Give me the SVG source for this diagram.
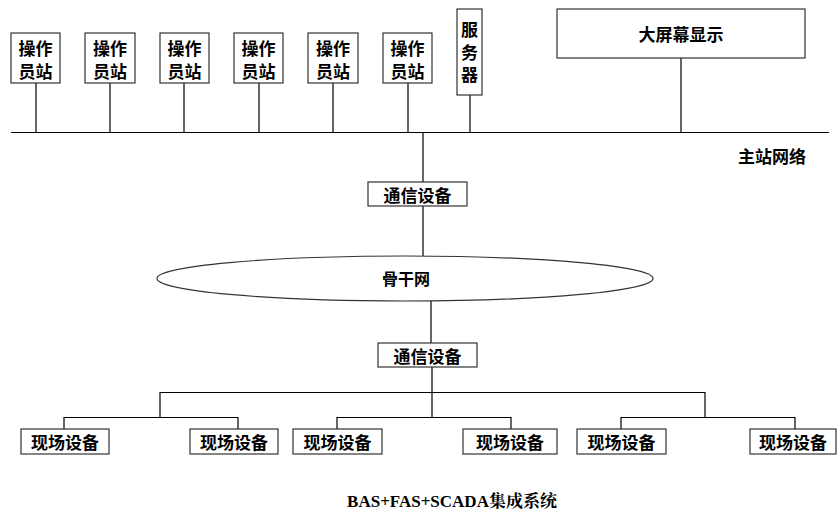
<svg xmlns="http://www.w3.org/2000/svg" width="837" height="513" viewBox="0 0 837 513">
<style>
.b{fill:#fff;stroke:#333;stroke-width:1.2}
.t{font-family:"Noto Sans CJK SC","Noto Sans CJK JP",sans-serif;font-size:17px;font-weight:bold;fill:#000;text-anchor:middle;dominant-baseline:central}
.c{stroke:#000;stroke-width:1.2;fill:none}
</style>
<rect width="837" height="513" fill="#fff"/>
<g id="connectors">
<path class="c" d="M11 132.5H829"/>
<path class="c" d="M36 83V132M110 83V132M184 83V132M259 83V132M333 83V132M408 83V132M470 95V132M681 58V132"/>
<path class="c" d="M423 132V182M423 206V256M431 301V343M432 367V417"/>
<path class="c" d="M160 417V392.5H705V417"/>
<path class="c" d="M64 429V417.5H238V429M337 429V417.5H511V429M621 429V417.5H795V429"/>
</g>
<g id="op1"><rect class="b" x="11" y="33" width="49" height="50"/><text class="t" x="35.5" y="47">操作</text><text class="t" x="35.5" y="70">员站</text></g>
<g id="op2"><rect class="b" x="85" y="33" width="50" height="50"/><text class="t" x="110" y="47">操作</text><text class="t" x="110" y="70">员站</text></g>
<g id="op3"><rect class="b" x="160" y="33" width="49" height="50"/><text class="t" x="184.5" y="47">操作</text><text class="t" x="184.5" y="70">员站</text></g>
<g id="op4"><rect class="b" x="234" y="33" width="49" height="50"/><text class="t" x="258.5" y="47">操作</text><text class="t" x="258.5" y="70">员站</text></g>
<g id="op5"><rect class="b" x="308" y="33" width="50" height="50"/><text class="t" x="333" y="47">操作</text><text class="t" x="333" y="70">员站</text></g>
<g id="op6"><rect class="b" x="383" y="33" width="49" height="50"/><text class="t" x="407.5" y="47">操作</text><text class="t" x="407.5" y="70">员站</text></g>
<g id="server"><rect class="b" x="457" y="9" width="25" height="86"/><text class="t" x="469.5" y="55" style="writing-mode:vertical-rl;letter-spacing:5.5px;dominant-baseline:auto">服务器</text></g>
<g id="screen"><rect class="b" x="557" y="9" width="248" height="49"/><text class="t" x="681" y="33">大屏幕显示</text></g>
<g id="netlabel"><text class="t" x="772" y="155">主站网络</text></g>
<g id="comm1"><rect class="b" x="368" y="182" width="99" height="24"/><text class="t" x="417.5" y="194">通信设备</text></g>
<g id="backbone"><ellipse class="b" cx="405" cy="278.5" rx="248" ry="22.5"/><text class="t" x="406" y="278" style="font-size:16px">骨干网</text></g>
<g id="comm2"><rect class="b" x="378" y="343" width="99" height="24"/><text class="t" x="427.5" y="355">通信设备</text></g>
<g id="f1"><rect class="b" x="21" y="429" width="88" height="25"/><text class="t" x="65" y="441.5">现场设备</text></g>
<g id="f2"><rect class="b" x="190" y="429" width="88" height="25"/><text class="t" x="234" y="441.5">现场设备</text></g>
<g id="f3"><rect class="b" x="293" y="429" width="89" height="25"/><text class="t" x="337.5" y="441.5">现场设备</text></g>
<g id="f4"><rect class="b" x="463" y="429" width="94" height="25"/><text class="t" x="510" y="441.5">现场设备</text></g>
<g id="f5"><rect class="b" x="577" y="429" width="89" height="25"/><text class="t" x="621.5" y="441.5">现场设备</text></g>
<g id="f6"><rect class="b" x="750" y="429" width="86" height="25"/><text class="t" x="793" y="441.5">现场设备</text></g>
<text x="452" y="507" style="font-family:'Liberation Serif','Noto Serif CJK SC','Noto Sans CJK SC',serif;font-size:17px;font-weight:bold;text-anchor:middle">BAS+FAS+SCADA集成系统</text>
</svg>
